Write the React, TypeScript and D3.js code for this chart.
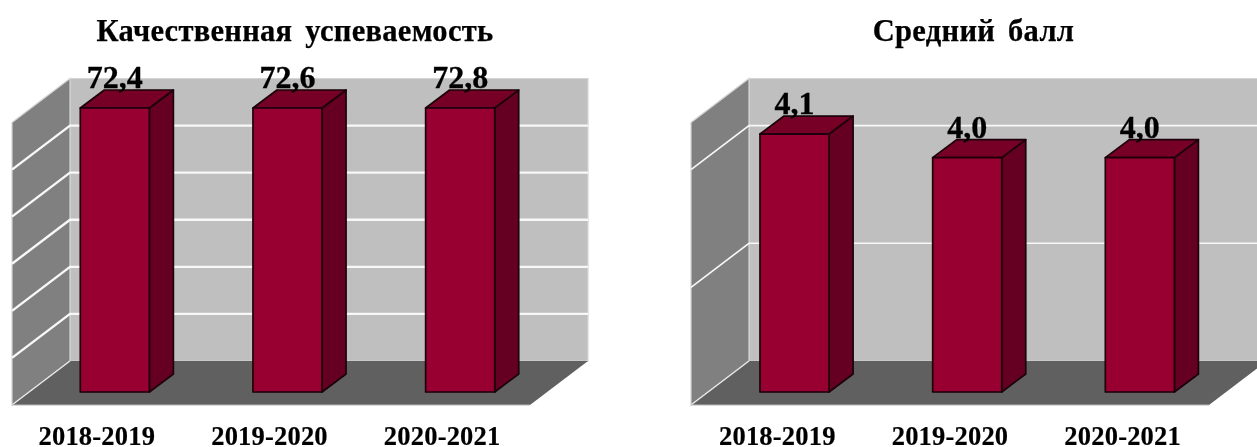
import React from "react";
import * as d3 from "d3";

const categories = ["2018-2019", "2019-2020", "2020-2021"];
const qualityValues = [72.4, 72.6, 72.8];
const gradeValues = [4.1, 4.0, 4.0];
const qualityTicks = [0, 10, 20, 30, 40, 50, 60];
const gradeTicks = [3, 3.5, 4];
const qualityLabels = ["72,4", "72,6", "72,8"];
const gradeLabels = ["4,1", "4,0", "4,0"];

const C = {
  wall: "#bfbfbf",
  side: "#808080",
  floor: "#606060",
  edge: "#d4d4d4",
  front: "#990030",
  barSide: "#650020",
  barTop: "#770026",
  stroke: "#1a0008",
};

const SERIF = "'Liberation Serif', 'Times New Roman', serif";

const poly = (pts: [number, number][]) => {
  const p = d3.path();
  pts.forEach(([x, y], i) => (i ? p.lineTo(x, y) : p.moveTo(x, y)));
  p.closePath();
  return p.toString();
};

type PanelProps = {
  left: number;
  title: string;
  titleX: number;
  values: number[];
  labels: string[];
  ticks: number[];
  domain: [number, number];
  gridWidth: number;
  labelShift: number;
  barShift: number;
  barTopExtra: number;
};

function Panel({ left, title, titleX, values, labels, ticks, domain, gridWidth, labelShift, barShift, barTopExtra }: PanelProps) {
  const wallW = 518;
  const top = 78.5;
  const base = 361;
  const depthX = 58;
  const depthY = 44;
  const barDepthX = 24;
  const barDepthY = 18;
  const barOffX = 16.5 + barShift;
  const barOffY = 13;

  const y = d3.scaleLinear().domain(domain).range([base, top]).clamp(true);
  const x = d3
    .scaleBand<string>()
    .domain(categories)
    .range([left, left + wallW])
    .paddingInner(0.6)
    .paddingOuter(0.3);

  const bx = left + depthX;
  const barBottom = base + depthY - barOffY;

  return (
    <g>
      <text
        x={titleX}
        y={41}
        textAnchor="middle"
        fontFamily={SERIF}
        fontWeight="bold"
        fontSize={30.5}
        letterSpacing={0.3}
        wordSpacing={5}
        stroke="#000"
        strokeWidth={0.25}
        fill="#000"
      >
        {title}
      </text>

      <path
        d={poly([[bx, top], [bx + wallW, top], [bx + wallW, base], [bx, base]])}
        fill={C.wall}
        stroke={C.edge}
        strokeWidth={1.2}
      />
      <path
        d={poly([[left, top + depthY], [bx, top], [bx, base], [left, base + depthY]])}
        fill={C.side}
        stroke={C.edge}
        strokeWidth={1.2}
      />
      <path
        d={poly([[left, base + depthY], [bx, base], [bx + wallW, base], [left + wallW, base + depthY]])}
        fill={C.floor}
      />
      <path d={`M${left},${base + depthY}L${bx},${base}`} stroke="#e8e8e8" strokeWidth={1.2} fill="none" />
      <path d={`M${left},${base + depthY}H${left + wallW}`} stroke="#b8b8b8" strokeWidth={1} fill="none" />

      {ticks
        .filter((t) => y(t) < base - 1 && y(t) > top + 1)
        .map((t) => (
          <path
            key={t}
            d={`M${left},${y(t) + depthY}L${bx},${y(t)}H${bx + wallW}`}
            fill="none"
            stroke="#f8f8f8"
            strokeWidth={gridWidth}
          />
        ))}

      {categories.map((c, i) => {
        const x0 = (x(c) as number) + barOffX;
        const x1 = x0 + x.bandwidth();
        const h = base - y(values[i]) + barTopExtra;
        const t = barBottom - h;
        return (
          <g key={c} stroke={C.stroke} strokeWidth={1.7} strokeLinejoin="round">
            <path
              d={poly([[x1, t], [x1 + barDepthX, t - barDepthY], [x1 + barDepthX, barBottom - barDepthY], [x1, barBottom]])}
              fill={C.barSide}
            />
            <path
              d={poly([[x0, t], [x0 + barDepthX, t - barDepthY], [x1 + barDepthX, t - barDepthY], [x1, t]])}
              fill={C.barTop}
            />
            <rect x={x0} y={t} width={x.bandwidth()} height={h} fill={C.front} />
          </g>
        );
      })}

      {categories.map((c, i) => {
        const x0 = (x(c) as number) + barOffX;
        const h = base - y(values[i]) + barTopExtra;
        return (
          <text
            key={c}
            x={x0 + x.bandwidth() / 2}
            y={barBottom - h - 20}
            textAnchor="middle"
            fontFamily={SERIF}
            fontWeight="bold"
            fontSize={32}
            stroke="#000"
            strokeWidth={0.3}
            fill="#000"
          >
            {labels[i]}
          </text>
        );
      })}

      {categories.map((c) => (
        <text
          key={c}
          x={(x(c) as number) + x.bandwidth() / 2 + labelShift}
          y={445}
          textAnchor="middle"
          fontFamily={SERIF}
          fontWeight="bold"
          fontSize={26.5}
          letterSpacing={0.2}
          stroke="#000"
          strokeWidth={0.2}
          fill="#000"
        >
          {c}
        </text>
      ))}
    </g>
  );
}

export default function App() {
  return (
    <svg
      width={1257}
      height={447}
      viewBox="0 0 1257 447"
      style={{ position: "absolute", left: 0, top: 0, display: "block", background: "#fff" }}
    >
      <defs>
        <filter id="soft" x="0" y="0" width="100%" height="100%">
          <feGaussianBlur stdDeviation="0.45" />
        </filter>
      </defs>
      <g filter="url(#soft)">
        <rect width={1257} height={447} fill="#fff" />
        <Panel
          left={12}
          title="Качественная успеваемость"
          titleX={295}
          values={qualityValues}
          labels={qualityLabels}
          ticks={qualityTicks}
          domain={[0, 60]}
          gridWidth={2.4}
          labelShift={-1.5}
          barShift={0}
          barTopExtra={1.5}
        />
        <Panel
          left={691}
          title="Средний балл"
          titleX={973.5}
          values={gradeValues}
          labels={gradeLabels}
          ticks={gradeTicks}
          domain={[3, 4.2]}
          gridWidth={1.6}
          labelShift={0}
          barShift={0.7}
          barTopExtra={-1}
        />
      </g>
    </svg>
  );
}
